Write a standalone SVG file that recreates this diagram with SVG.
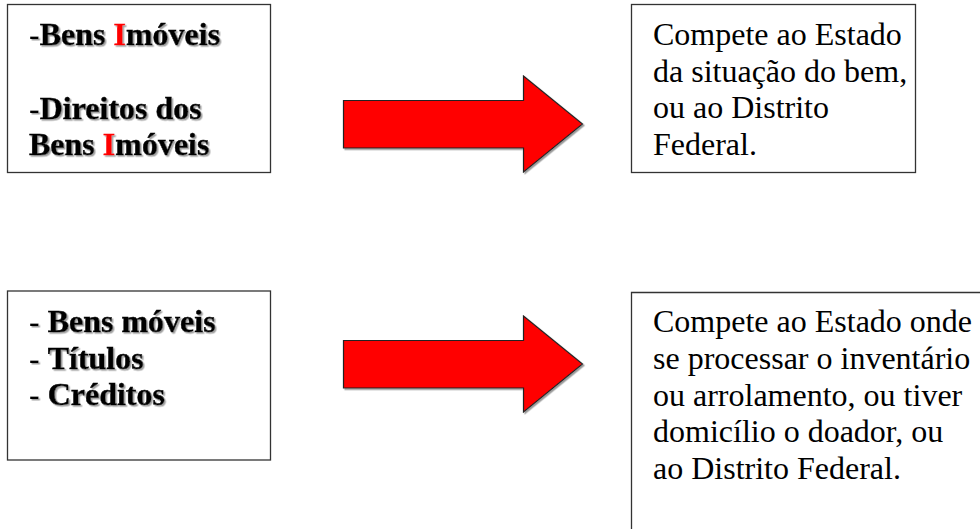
<svg xmlns="http://www.w3.org/2000/svg" width="980" height="529" viewBox="0 0 980 529">
<style>
  .box { fill: #ffffff; stroke: #333333; stroke-width: 1.3; }
  .bold { font-family: "Liberation Serif", "Times New Roman", serif; font-size: 32px; font-weight: bold; fill: #000000; stroke: #000000; stroke-width: 0.5; filter: url(#textShadow); }
  .reg { font-family: "Liberation Serif", "Times New Roman", serif; font-size: 32px; fill: #000000; }
  .dash { font-weight: normal; stroke-width: 0; }
  .red { fill: #ff0000; stroke: #ff0000; }
  .arrow { fill: #ff0000; stroke: #222222; stroke-width: 1.2; stroke-linejoin: miter; filter: url(#arrowShadow); }
</style>
<defs>
  <filter id="textShadow" x="-5%" y="-5%" width="110%" height="115%">
    <feDropShadow dx="1.5" dy="1.5" stdDeviation="0" flood-color="#a0a0a0" flood-opacity="1"/>
  </filter>
  <filter id="arrowShadow" x="-5%" y="-5%" width="110%" height="115%">
    <feDropShadow dx="1.5" dy="1.5" stdDeviation="0" flood-color="#999999" flood-opacity="1"/>
  </filter>
  <polygon id="arrowShape" points="343.5,100.5 523.5,100.5 523.5,76 582.5,124 523.5,172 523.5,148 343.5,148"/>
</defs>
<rect width="980" height="529" fill="#ffffff"/>

<g id="box-imoveis">
  <rect class="box" x="7.5" y="4.5" width="263" height="168"/>
  <text class="bold"><tspan x="29" y="45"><tspan class="dash">-</tspan>Bens <tspan class="red">I</tspan>móveis</tspan><tspan x="29" y="118.5"><tspan class="dash">-</tspan>Direitos dos</tspan><tspan x="29" y="155">Bens <tspan class="red">I</tspan>móveis</tspan></text>
</g>

<g id="box-estado-bem">
  <rect class="box" x="631.5" y="4.5" width="284" height="168"/>
  <text class="reg"><tspan x="653" y="45">Compete ao Estado</tspan><tspan x="653" y="81.7">da situação do bem,</tspan><tspan x="653" y="118.3">ou ao Distrito</tspan><tspan x="653" y="155">Federal.</tspan></text>
</g>

<g id="box-moveis">
  <rect class="box" x="7.5" y="291" width="263" height="169"/>
  <text class="bold"><tspan x="29" y="332"><tspan class="dash">- </tspan>Bens móveis</tspan><tspan x="29" y="368.5"><tspan class="dash">- </tspan>Títulos</tspan><tspan x="29" y="405"><tspan class="dash">- </tspan>Créditos</tspan></text>
</g>

<g id="box-estado-inventario">
  <path class="box" d="M631.5,531 V292.5 H982 V531 Z"/>
  <text class="reg"><tspan x="653" y="332">Compete ao Estado onde</tspan><tspan x="653" y="368.8">se processar o inventário</tspan><tspan x="653" y="405.6">ou arrolamento, ou tiver</tspan><tspan x="653" y="442.4">domicílio o doador, ou</tspan><tspan x="653" y="479.2">ao Distrito Federal.</tspan></text>
</g>

<g id="connectors">
  <use id="arrow-top" href="#arrowShape" class="arrow"/>
  <use id="arrow-bottom" href="#arrowShape" class="arrow" transform="translate(0,240)"/>
</g>
</svg>
